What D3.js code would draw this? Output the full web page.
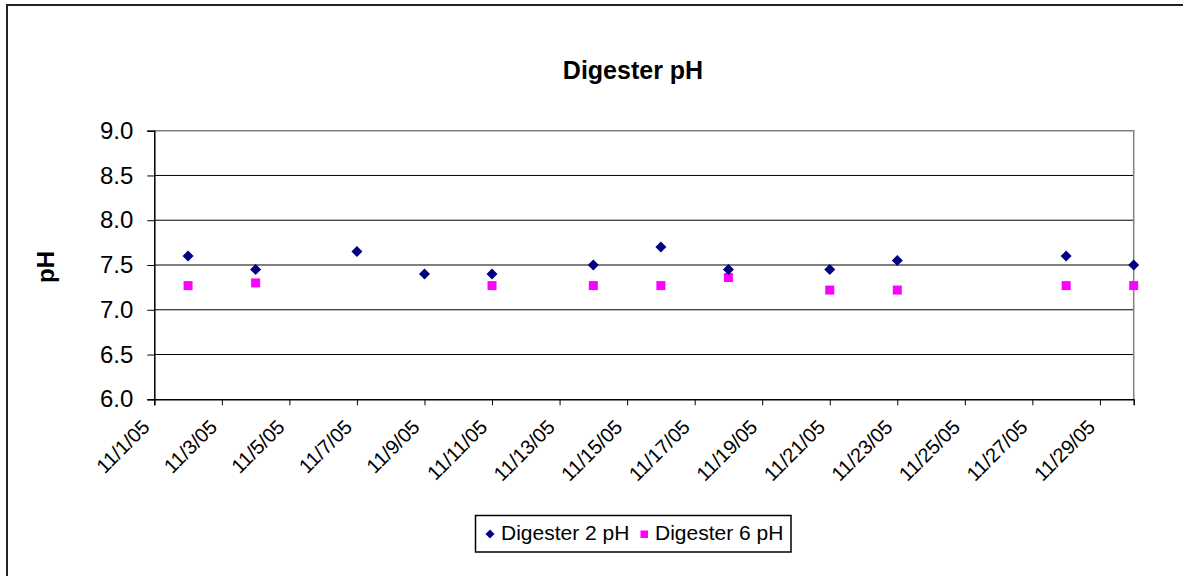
<!DOCTYPE html>
<html>
<head>
<meta charset="utf-8">
<script src="https://cdn.jsdelivr.net/npm/d3@7"></script>
<style>
  body { margin: 0; background: #fff; }
  text { font-family: Arial, "Liberation Sans", sans-serif; }
</style>
</head>
<body>
<div class="chart"></div>
<script>
let width = 1183, height = 576;

// data
let startDate = "11/1/05", endDate = "11/30/05";
let yTicks = [6.0, 6.5, 7.0, 7.5, 8.0, 8.5, 9.0];
let digester2Dates = ["11/2/05","11/4/05","11/7/05","11/9/05","11/11/05","11/14/05","11/16/05","11/18/05","11/21/05","11/23/05","11/28/05","11/30/05"];
let digester2 = [7.60, 7.45, 7.65, 7.40, 7.40, 7.50, 7.70, 7.45, 7.45, 7.55, 7.60, 7.50];
let digester6Dates = ["11/2/05","11/4/05","11/11/05","11/14/05","11/16/05","11/18/05","11/21/05","11/23/05","11/28/05","11/30/05"];
let digester6 = [7.27, 7.30, 7.27, 7.27, 7.27, 7.36, 7.22, 7.22, 7.27, 7.27];

let plot = { left: 154.3, right: 1133.7, top: 130.7, bottom: 399.3 };

let parse = d3.timeParse("%m/%d/%y");
let fmt = d3.timeFormat("%-m/%-d/%y");

let svg = d3.select(".chart").append("svg")
    .attr("width", width)
    .attr("height", height);

// outer chart border
svg.append("rect")
    .attr("x", 7).attr("y", 5)
    .attr("width", 1200).attr("height", 600)
    .attr("fill", "#fff")
    .attr("stroke", "#222")
    .attr("stroke-width", 2);

let x = d3.scaleTime()
    .domain([parse(startDate), parse(endDate)])
    .range([plot.left, plot.right]);

let y = d3.scaleLinear()
    .domain([6, 9])
    .range([plot.bottom, plot.top]);

// gridlines
svg.append("g")
    .selectAll("line")
    .data(yTicks.slice(1, -1))
    .join("line")
    .attr("x1", plot.left).attr("x2", plot.right)
    .attr("y1", d => y(d)).attr("y2", d => y(d))
    .attr("stroke", "#000")
    .attr("stroke-width", 1);

// plot area frame (top + right, gray)
svg.append("path")
    .attr("d", `M${plot.left},${plot.top}H${plot.right}V${plot.bottom}`)
    .attr("fill", "none")
    .attr("stroke", "#808080")
    .attr("stroke-width", 1.5);

// y axis
let yAxis = svg.append("g")
    .attr("transform", `translate(${plot.left},0)`)
    .call(d3.axisLeft(y).tickValues(yTicks).tickFormat(d3.format(".1f")).tickSize(7).tickPadding(14));
yAxis.select(".domain").attr("stroke", "#000").attr("stroke-width", 1.5);
yAxis.selectAll(".tick line").attr("stroke", "#000");
yAxis.selectAll(".tick text")
    .attr("font-size", 24)
    .attr("font-family", "Arial, 'Liberation Sans', sans-serif")
    .attr("fill", "#000");

// x axis
let xAxis = svg.append("g")
    .attr("transform", `translate(0,${plot.bottom})`)
    .call(d3.axisBottom(x).ticks(d3.timeDay.every(2)).tickFormat(fmt).tickSize(6));
xAxis.select(".domain").attr("stroke", "#000").attr("stroke-width", 1.5);
xAxis.selectAll(".tick line").attr("stroke", "#000");
xAxis.selectAll(".tick text")
    .attr("font-size", 20)
    .attr("font-family", "Arial, 'Liberation Sans', sans-serif")
    .attr("fill", "#000")
    .attr("text-anchor", "end")
    .attr("dy", 0)
    .attr("y", 0)
    .attr("transform", "translate(-4,29) rotate(-45)");

// series
let pts2 = digester2Dates.map((d, i) => ({ date: parse(d), v: digester2[i] }));
let pts6 = digester6Dates.map((d, i) => ({ date: parse(d), v: digester6[i] }));

svg.append("g")
    .selectAll("rect")
    .data(pts6)
    .join("rect")
    .attr("x", d => x(d.date) - 4.5)
    .attr("y", d => y(d.v) - 4.5)
    .attr("width", 9).attr("height", 9)
    .attr("fill", "#ff00ff");

let diamond = "M0,-5.5L5.5,0L0,5.5L-5.5,0Z";
svg.append("g")
    .selectAll("path")
    .data(pts2)
    .join("path")
    .attr("d", diamond)
    .attr("transform", d => `translate(${x(d.date)},${y(d.v)})`)
    .attr("fill", "#000080");

// title
svg.append("text")
    .attr("x", 633).attr("y", 79)
    .attr("text-anchor", "middle")
    .attr("font-size", 25)
    .attr("font-weight", "bold")
    .text("Digester pH");

// y axis title
svg.append("text")
    .attr("transform", "translate(54,267) rotate(-90)")
    .attr("text-anchor", "middle")
    .attr("font-size", 24)
    .attr("font-weight", "bold")
    .text("pH");

// legend
let legend = svg.append("g");
legend.append("rect")
    .attr("x", 475.5).attr("y", 515.5)
    .attr("width", 315.5).attr("height", 36.5)
    .attr("fill", "#fff")
    .attr("stroke", "#000")
    .attr("stroke-width", 1.5);
legend.append("path")
    .attr("d", "M0,-4.5L4.5,0L0,4.5L-4.5,0Z")
    .attr("transform", "translate(490,534)")
    .attr("fill", "#000080");
legend.append("text")
    .attr("x", 501).attr("y", 540)
    .attr("font-size", 21)
    .text("Digester 2 pH");
legend.append("rect")
    .attr("x", 640.5).attr("y", 530.5)
    .attr("width", 7.5).attr("height", 7.5)
    .attr("fill", "#ff00ff");
legend.append("text")
    .attr("x", 655).attr("y", 540)
    .attr("font-size", 21)
    .text("Digester 6 pH");
</script>
</body>
</html>
